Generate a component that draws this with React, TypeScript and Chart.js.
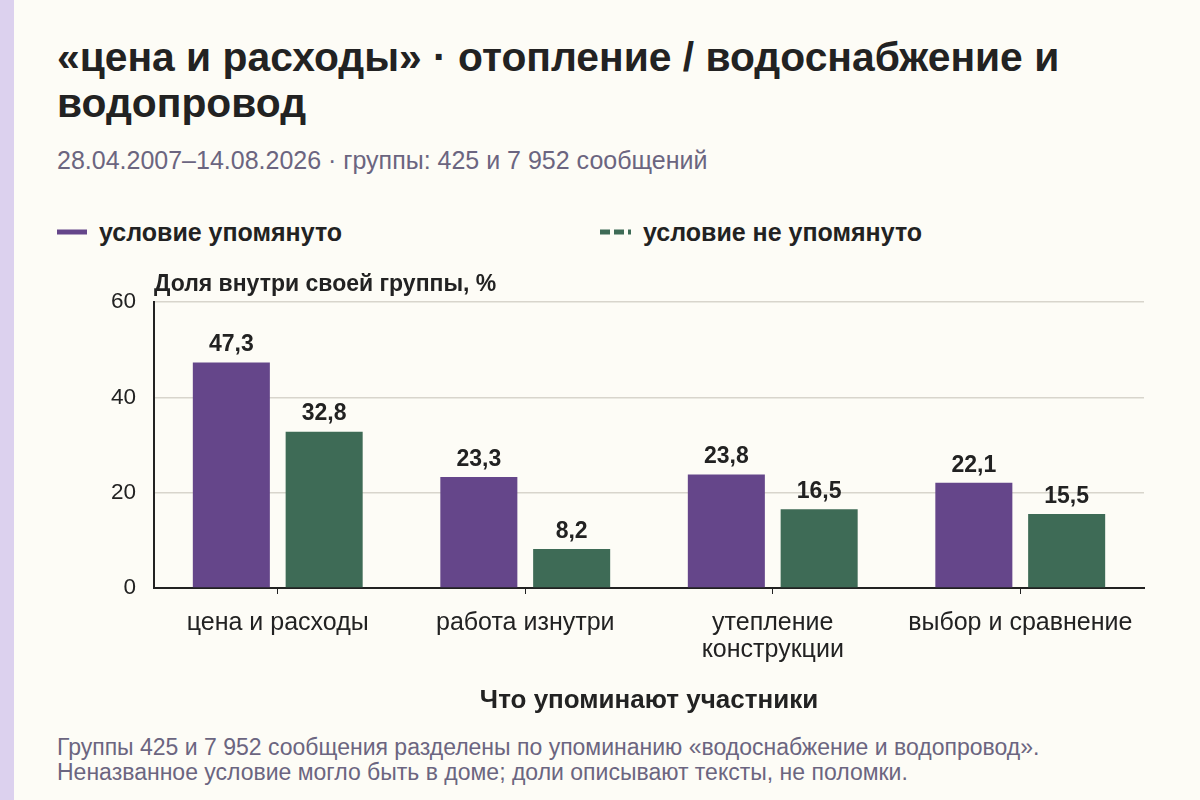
import React, { useEffect, useRef } from "react";
import { Chart, registerables } from "chart.js";

Chart.register(...registerables);

const categories: (string | string[])[] = [
  "цена и расходы",
  "работа изнутри",
  ["утепление", "конструкции"],
  "выбор и сравнение",
];
const mentioned = [47.3, 23.3, 23.8, 22.1];
const notMentioned = [32.8, 8.2, 16.5, 15.5];
const seriesNames = ["условие упомянуто", "условие не упомянуто"];
const yTicks = [0, 20, 40, 60];

const PURPLE = "#65468a";
const GREEN = "#3e6b56";
const FONT = "'Liberation Sans', Arial, sans-serif";
const INK = "#222222";
const MUTED = "#6b6580";

const valueLabels = {
  id: "valueLabels",
  afterDatasetsDraw(chart: any) {
    const ctx = chart.ctx;
    ctx.save();
    ctx.font = `bold 23px ${FONT}`;
    ctx.fillStyle = INK;
    ctx.textAlign = "center";
    ctx.textBaseline = "bottom";
    chart.data.datasets.forEach((ds: any, di: number) => {
      const meta = chart.getDatasetMeta(di);
      meta.data.forEach((bar: any, i: number) => {
        const v = ds.data[i] as number;
        ctx.fillText(v.toFixed(1).replace(".", ","), bar.x, bar.y - 6);
      });
    });
    ctx.restore();
  },
};

const yTitle = {
  id: "yTitle",
  afterDraw(chart: any) {
    const ctx = chart.ctx;
    const area = chart.chartArea;
    ctx.save();
    ctx.font = `bold 23px ${FONT}`;
    ctx.fillStyle = INK;
    ctx.textAlign = "left";
    ctx.textBaseline = "middle";
    ctx.fillText("Доля внутри своей группы, %", area.left, area.top - 17);
    ctx.restore();
  },
};

function ChartCanvas() {
  const ref = useRef<HTMLCanvasElement | null>(null);
  useEffect(() => {
    if (!ref.current) return;
    const chart = new Chart(ref.current, {
      type: "bar",
      data: {
        labels: categories,
        datasets: [
          {
            label: seriesNames[0],
            data: mentioned,
            backgroundColor: PURPLE,
            categoryPercentage: 0.75,
            barPercentage: 0.83,
          },
          {
            label: seriesNames[1],
            data: notMentioned,
            backgroundColor: GREEN,
            categoryPercentage: 0.75,
            barPercentage: 0.83,
          },
        ],
      },
      options: {
        animation: false,
        responsive: false,
        maintainAspectRatio: false,
        layout: { padding: { left: 0, right: 56, top: 42, bottom: 0 } },
        plugins: {
          legend: { display: false },
          tooltip: { enabled: false },
          title: { display: false },
        },
        scales: {
          x: {
            grid: {
              display: true,
              drawOnChartArea: false,
              drawTicks: true,
              tickLength: 6,
              color: INK,
              offset: false,
            },
            border: { display: true, color: INK, width: 2 },
            ticks: {
              color: INK,
              font: { family: FONT, size: 25, lineHeight: 1.1 },
              padding: 15,
              maxRotation: 0,
              autoSkip: false,
            },
            title: {
              display: true,
              text: "Что упоминают участники",
              color: INK,
              font: { family: FONT, size: 26, weight: "bold" },
              padding: { top: 0, bottom: 4 },
            },
            afterFit(scale: any) {
              scale.height = 132;
            },
          },
          y: {
            min: 0,
            max: 60,
            afterBuildTicks(scale: any) {
              scale.ticks = yTicks.map((v) => ({ value: v }));
            },
            grid: {
              color: "#d8d5cc",
              lineWidth: 1.5,
              drawTicks: false,
            },
            border: { display: true, color: INK, width: 2 },
            ticks: {
              color: INK,
              font: { family: FONT, size: 22.5 },
              padding: 18,
            },
            afterFit(scale: any) {
              scale.width = 154;
            },
          },
        },
      },
      plugins: [valueLabels, yTitle],
    });
    return () => chart.destroy();
  }, []);
  return (
    <canvas
      ref={ref}
      width={1200}
      height={460}
      style={{ position: "absolute", left: 0, top: 260, width: 1200, height: 460 }}
    />
  );
}

export default function App() {
  return (
    <div
      style={{
        position: "fixed",
        left: 0,
        top: 0,
        width: 1200,
        height: 800,
        background: "#fdfcf6",
        fontFamily: FONT,
        overflow: "hidden",
      }}
    >
      <div style={{ position: "absolute", left: 0, top: 0, width: 14, height: 800, background: "#dcd1ee" }} />
      <div
        style={{
          position: "absolute",
          left: 57,
          top: 34,
          width: 1100,
          fontSize: 40.8,
          fontWeight: "bold",
          lineHeight: "46px",
          color: INK,
        }}
      >
        «цена и расходы» · отопление / водоснабжение и водопровод
      </div>
      <div style={{ position: "absolute", left: 57, top: 145, fontSize: 25, lineHeight: "30px", color: MUTED }}>
        28.04.2007–14.08.2026 · группы: 425 и 7 952 сообщений
      </div>
      <div style={{ position: "absolute", left: 57, top: 217, height: 30, display: "flex", alignItems: "center" }}>
        <svg width={30} height={8} style={{ marginRight: 12 }}>
          <line x1={0} y1={4} x2={30} y2={4} stroke={PURPLE} strokeWidth={5} />
        </svg>
        <span style={{ fontSize: 25, fontWeight: "bold", color: INK }}>{seriesNames[0]}</span>
      </div>
      <div style={{ position: "absolute", left: 600, top: 217, height: 30, display: "flex", alignItems: "center" }}>
        <svg width={31} height={8} style={{ marginRight: 12 }}>
          <line x1={0} y1={4} x2={31} y2={4} stroke={GREEN} strokeWidth={5} strokeDasharray="10 4" />
        </svg>
        <span style={{ fontSize: 25, fontWeight: "bold", color: INK }}>{seriesNames[1]}</span>
      </div>
      <ChartCanvas />
      <div
        style={{
          position: "absolute",
          left: 57,
          top: 735,
          fontSize: 23,
          lineHeight: "25px",
          color: MUTED,
        }}
      >
        Группы 425 и 7 952 сообщения разделены по упоминанию «водоснабжение и водопровод».
        <br />
        Неназванное условие могло быть в доме; доли описывают тексты, не поломки.
      </div>
    </div>
  );
}
